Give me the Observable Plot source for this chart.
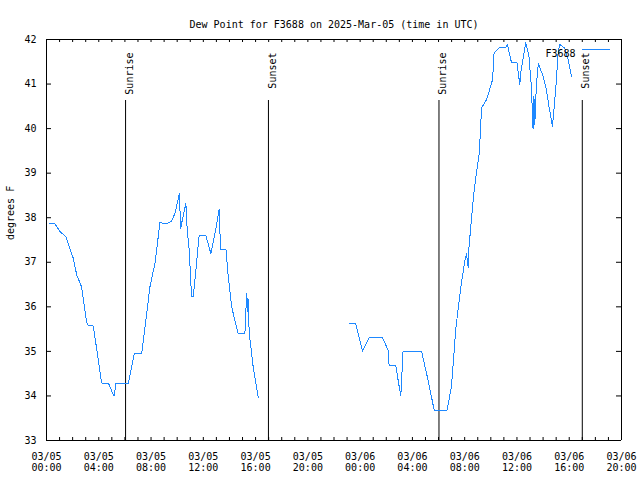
<!DOCTYPE html>
<html><head><meta charset="utf-8">
<script src="https://cdn.jsdelivr.net/npm/d3@7"></script>
<script src="https://cdn.jsdelivr.net/npm/@observablehq/plot@0.6"></script>
<style>body{margin:0;background:#fff}svg{display:block}</style>
</head><body><div id="chart"></div>
<script>
const titleText = "Dew Point for F3688 on 2025-Mar-05 (time in UTC)";
const yLabel = "degrees F";
const seriesName = "F3688";
const lineColor = "#1e88ff";

const s1Times = ["03-05 00:11","03-05 00:36","03-05 01:02","03-05 01:28","03-05 02:03","03-05 02:19","03-05 02:41","03-05 03:04","03-05 03:12","03-05 03:35",
  "03-05 04:13","03-05 04:44","03-05 05:10","03-05 05:19","03-05 06:16","03-05 06:43","03-05 07:17","03-05 07:40","03-05 07:55","03-05 08:18",
  "03-05 08:41","03-05 09:12","03-05 09:35","03-05 09:50","03-05 10:10","03-05 10:16","03-05 10:22","03-05 10:40","03-05 10:46","03-05 10:55",
  "03-05 11:06","03-05 11:14","03-05 11:26","03-05 11:41","03-05 12:11","03-05 12:35","03-05 12:58","03-05 13:13","03-05 13:19","03-05 13:44",
  "03-05 13:54","03-05 14:10","03-05 14:40","03-05 15:11","03-05 15:19","03-05 15:21","03-05 15:25","03-05 15:31","03-05 15:49","03-05 16:12"];
const s1Values = [37.88,37.88,37.69,37.58,37.09,36.71,36.45,35.66,35.57,35.57,
  34.29,34.29,33.99,34.28,34.28,34.95,34.95,35.85,36.45,36.98,
  37.89,37.86,37.93,38.10,38.54,37.76,37.91,38.32,37.72,37.28,
  36.23,36.23,36.83,37.61,37.61,37.19,37.76,38.19,37.28,37.28,
  36.71,36.00,35.40,35.40,36.30,35.89,36.20,35.40,34.65,33.97];

const s2Times = ["03-05 23:13","03-05 23:39","03-06 00:11","03-06 00:41","03-06 01:43","03-06 02:08","03-06 02:13","03-06 02:43","03-06 03:02","03-06 03:07",
  "03-06 03:17","03-06 04:42","03-06 05:12","03-06 05:40","03-06 06:39","03-06 06:59","03-06 07:19","03-06 07:30","03-06 07:45","03-06 08:00",
  "03-06 08:08","03-06 08:16","03-06 08:20","03-06 08:31","03-06 08:42","03-06 08:54","03-06 09:06","03-06 09:13","03-06 09:17","03-06 09:40",
  "03-06 09:55","03-06 10:08","03-06 10:15","03-06 10:38","03-06 11:08","03-06 11:16","03-06 11:35","03-06 12:00","03-06 12:13","03-06 12:17",
  "03-06 12:40","03-06 12:55","03-06 13:06","03-06 13:14","03-06 13:18","03-06 13:22","03-06 13:29","03-06 13:38","03-06 14:00","03-06 14:15",
  "03-06 14:27","03-06 14:43","03-06 14:58","03-06 15:09","03-06 15:16","03-06 15:39","03-06 15:55","03-06 16:10"];
const s2Values = [35.63,35.63,35.00,35.31,35.31,35.03,34.69,34.69,34.13,34.01,
  35.00,35.00,34.35,33.68,33.68,34.20,35.49,35.96,36.53,37.01,
  37.19,36.89,37.35,37.96,38.55,39.00,39.41,39.98,40.46,40.65,
  40.88,41.10,41.70,41.81,41.81,41.89,41.48,41.48,40.99,41.25,
  41.93,41.63,40.95,39.99,40.73,40.10,40.95,41.46,41.18,40.88,
  40.50,40.05,40.88,41.70,41.89,41.81,41.55,41.18];

const sunTimes = ["03-05 06:03","03-05 16:59","03-06 06:02","03-06 17:00"];
const sunLabels = ["Sunrise","Sunset","Sunrise","Sunset"];

const xDomain = ["03-05 00:00","03-06 20:00"];
const xTicks = ["03-05 00:00","03-05 04:00","03-05 08:00","03-05 12:00","03-05 16:00","03-05 20:00",
  "03-06 00:00","03-06 04:00","03-06 08:00","03-06 12:00","03-06 16:00","03-06 20:00"];
const yTicks = [33,34,35,36,37,38,39,40,41,42];

const parse = d3.utcParse("%Y-%m-%d %H:%M");
const P = s => parse("2025-" + s);
const d1 = s1Times.map((t, i) => ({t: P(t), v: s1Values[i]}));
const d2 = s2Times.map((t, i) => ({t: P(t), v: s2Values[i]}));
const sun = sunTimes.map((t, i) => ({t: P(t), label: sunLabels[i]}));
const xd = xDomain.map(P);
const xt = xTicks.map(P);
const hourTicks = d3.utcHour.range(xd[0], d3.utcHour.offset(xd[1], 1));
const fmt = d3.utcFormat("%m/%d\n%H:%M");

const W = 640, H = 480, mL = 46, mR = 19, mT = 39, mB = 40;
const frameH = H - mT - mB, frameW = W - mL - mR;

const chart = Plot.plot({
  width: W, height: H,
  marginLeft: mL, marginRight: mR, marginTop: mT, marginBottom: mB,
  style: {fontFamily: "'DejaVu Sans Mono', monospace", fontSize: "10px", color: "black", background: "white"},
  x: {type: "utc", domain: xd},
  y: {domain: [33, 42]},
  marks: [
    // tick marks (inward, mirrored)
    Plot.ruleX(hourTicks, {x: d => d, insetTop: frameH - 3, stroke: "black"}),
    Plot.ruleX(hourTicks, {x: d => d, insetBottom: frameH - 3, stroke: "black"}),
    Plot.ruleY(yTicks, {y: d => d, insetRight: frameW - 5, stroke: "black"}),
    Plot.ruleY(yTicks, {y: d => d, insetLeft: frameW - 5, stroke: "black"}),
    Plot.axisX(xt, {tickSize: 0, tickPadding: 11, tickFormat: fmt, lineHeight: 1.15, fontSize: 10, label: null}),
    Plot.axisY(yTicks, {tickSize: 0, tickPadding: 10, fontSize: 10, label: null}),
    // sunrise / sunset
    Plot.ruleX(sun, {x: "t", insetTop: 61, stroke: "black"}),
    Plot.text(sun, {x: "t", text: "label", frameAnchor: "top", rotate: -90, textAnchor: "end", dy: 13, fontSize: 10}),
    // data
    Plot.line(d1, {x: "t", y: "v", stroke: lineColor, strokeWidth: 1, shapeRendering: "crispEdges"}),
    Plot.line(d2, {x: "t", y: "v", stroke: lineColor, strokeWidth: 1, shapeRendering: "crispEdges"}),
    // frame
    Plot.ruleX(xd, {x: d => d, stroke: "black"}),
    Plot.ruleY([33, 42], {y: d => d, stroke: "black"}),
    // legend
    Plot.text([seriesName], {frameAnchor: "top-right", dx: -46, dy: 10, textAnchor: "end", fontSize: 10}),
    Plot.ruleY([42], {y: d => d, dy: 10, insetLeft: 536, insetRight: 11, stroke: lineColor}),
    // title and y label
    Plot.text([titleText], {frameAnchor: "top", dy: -19, fontSize: 10}),
    Plot.text([yLabel], {frameAnchor: "left", dx: -36, rotate: -90, fontSize: 10})
  ]
});
document.getElementById("chart").append(chart);
</script>
</body></html>
